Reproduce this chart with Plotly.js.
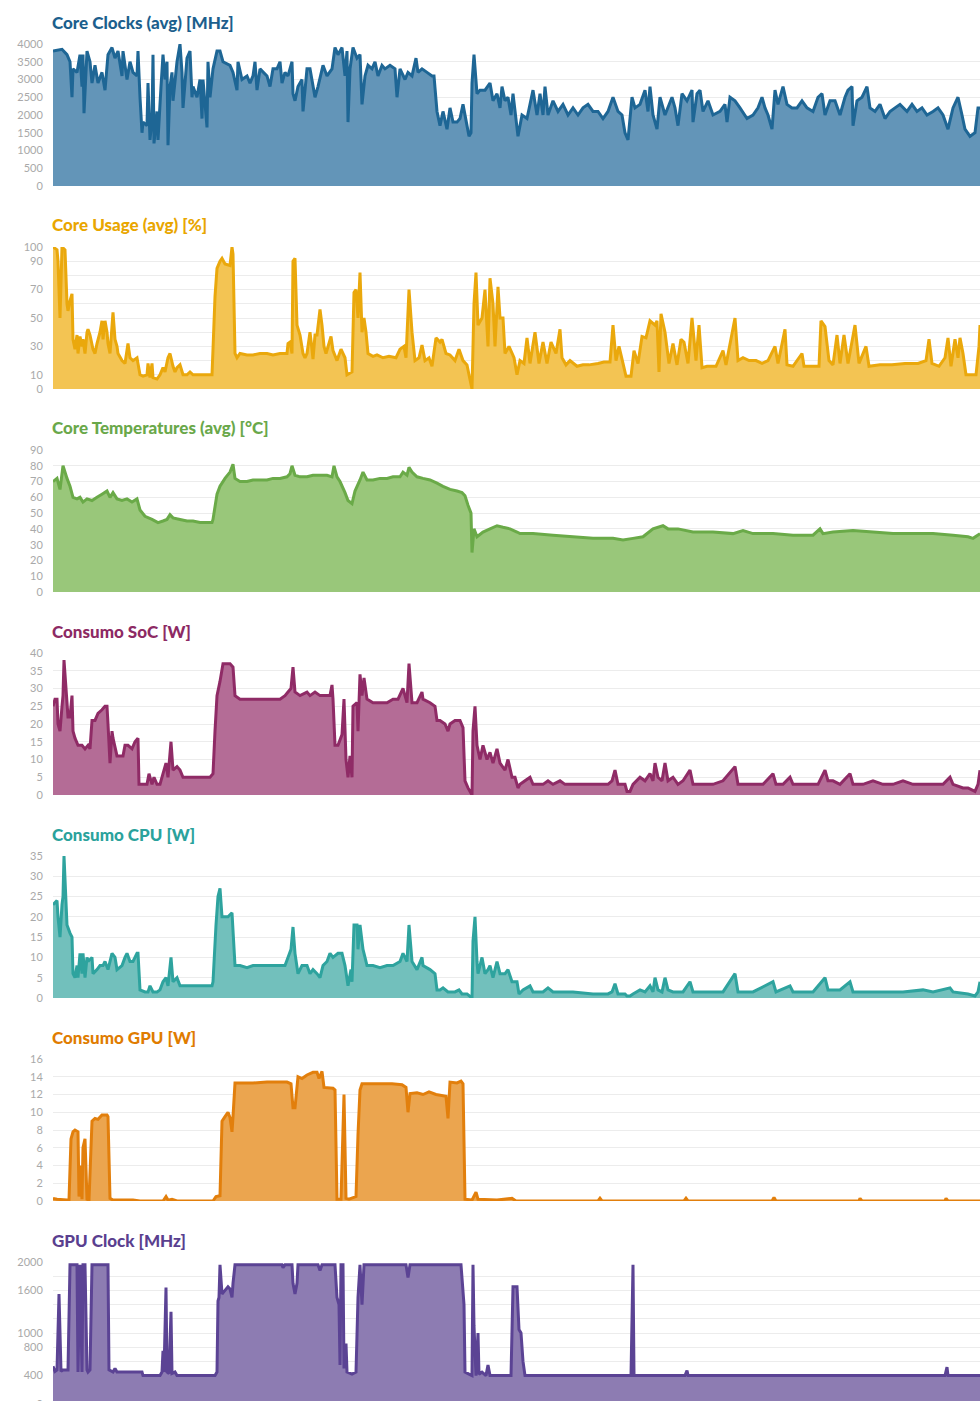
<!DOCTYPE html>
<html>
<head>
<meta charset="utf-8">
<script src="https://cdn.plot.ly/plotly-3.0.1.min.js"></script>
<style>
  html, body { margin: 0; padding: 0; background: #fff; overflow: hidden; }
  #chart { width: 980px; height: 1420px; }
</style>
</head>
<body>
<div id="chart"></div>
<script>
// Time axis in samples (0 .. 927)

// Core Clocks (avg) [MHz]
const clockT = [0,9,14,17,19,20,24,27,29,30,31,34,37,39,42,45,49,52,55,59,62,65,69,70,74,77,80,84,85,87,89,90,94,95,97,99,100,101,104,105,108,110,112,114,115,117,119,120,124,127,129,130,134,137,139,140,144,147,149,150,154,155,157,160,164,167,170,177,180,184,185,189,194,197,200,202,204,207,214,217,220,224,227,229,232,235,239,240,242,245,249,250,254,257,262,265,270,274,279,282,285,289,292,294,295,297,300,304,307,309,312,315,319,322,325,329,332,337,342,344,347,352,355,359,363,365,369,374,379,381,384,387,390,394,397,400,404,407,410,414,416,418,419,421,424,427,432,437,440,444,447,449,452,455,458,460,465,469,474,477,480,484,487,490,492,495,500,505,510,515,520,525,530,535,540,545,550,555,560,565,569,572,575,579,582,587,592,595,597,600,604,607,612,619,622,625,629,634,639,640,644,647,650,655,660,667,672,674,677,682,687,694,700,705,709,712,715,719,722,725,730,734,739,744,749,754,760,765,769,772,777,782,787,792,795,799,800,804,809,814,817,822,827,832,837,842,847,854,859,864,869,874,880,885,890,895,900,905,909,912,917,922,925,927];
const clockV = [3800,3850,3700,3500,2500,3300,3200,3700,2800,3700,2050,3800,3500,2900,3400,2900,3200,2700,3700,3900,3600,3800,3100,3800,3000,3500,3200,3100,3800,2500,1500,1800,1700,2900,1300,1900,3700,1200,2100,1300,2800,3700,3000,3500,1150,2800,3200,2400,3500,4000,3200,2200,3600,3800,2500,2800,2500,3000,1900,3000,1650,3500,2500,3300,3800,3800,3500,3400,3200,2700,3500,3000,3100,2900,3100,3500,2700,3300,3100,2800,3300,3300,3500,2900,3200,3100,3500,2600,2400,2800,3000,2100,3300,3300,2500,2800,3400,3100,3300,3900,3700,3900,3100,3800,1800,3300,3900,3600,3700,2300,3100,3400,3300,3500,3100,3400,3300,3400,3300,2500,3300,3000,3200,3100,3600,3200,3300,3200,3100,3100,2100,1700,2100,1600,2200,1800,1800,1900,2300,1700,1400,1500,2900,3700,2600,2700,2700,2900,2400,2600,2200,2800,2400,2500,2000,2600,1400,2000,1900,2300,2700,2000,2600,2000,2800,2000,2400,2100,2300,2000,2200,2000,2200,2300,2100,2100,1900,2100,2500,2100,2000,1500,1300,2500,2200,2300,2700,2100,2800,2000,1600,2500,2000,2500,2200,1700,2600,2400,2700,1800,2600,2700,2100,2400,2000,2100,2300,1800,2500,2400,2200,1900,2000,2200,2500,2200,2000,1600,2700,2300,2800,2300,2200,2200,2400,2200,2100,2500,2600,2000,2400,2400,2000,2500,2700,2800,1700,2400,2500,2800,2200,2100,2300,1900,2100,2200,2300,2100,2300,2100,2200,2000,2100,2200,2000,1600,2200,2500,2000,1600,1400,1500,2200,2200];

// Core Usage (avg) [%]
const usageT = [0,4,5,7,9,12,14,15,17,19,20,22,24,25,27,29,30,32,34,35,37,40,42,44,47,49,50,52,54,55,57,60,62,64,65,69,72,75,77,80,84,85,87,90,94,95,97,99,100,104,107,110,112,115,117,120,122,124,127,130,134,137,140,147,154,159,160,162,164,167,169,172,177,179,180,182,184,187,194,200,207,214,220,227,234,235,237,239,240,242,244,247,250,252,254,257,259,260,262,264,267,269,271,273,278,280,284,288,292,294,299,301,303,305,307,309,311,313,315,320,324,330,336,343,347,351,353,356,359,362,366,369,372,376,379,383,387,389,393,397,402,406,410,414,416,419,421,423,425,429,432,435,437,440,442,445,447,450,452,456,461,464,467,471,474,477,482,486,490,494,498,503,507,509,513,517,524,530,536,545,551,557,560,563,566,570,573,578,581,585,589,593,597,602,604,606,608,612,616,620,624,628,631,635,639,643,646,649,654,663,670,673,682,685,690,696,703,709,715,722,725,732,734,740,749,751,762,766,768,772,776,780,784,787,791,795,802,806,813,816,827,839,852,865,873,876,879,886,892,895,898,902,905,907,910,913,919,923,926,927];
const usageV = [100,98,90,50,100,98,60,55,62,67,35,28,38,25,37,30,35,25,40,42,38,28,25,32,40,48,35,48,40,32,25,54,35,30,25,20,18,32,22,20,22,18,10,9,10,18,8,18,8,7,10,15,12,22,25,16,12,15,17,10,10,12,10,10,10,10,28,65,85,90,92,88,87,100,95,25,22,25,24,24,25,25,24,25,25,32,33,25,90,92,45,38,25,22,25,40,28,21,38,38,56,45,30,25,37,27,20,28,22,10,12,68,70,50,82,40,50,40,25,23,24,22,23,22,28,30,22,70,40,20,22,31,20,22,16,36,33,35,25,24,20,28,20,17,10,0,60,82,45,50,70,30,78,60,30,72,50,50,25,30,22,10,20,18,36,18,40,18,33,18,33,25,42,22,17,20,16,17,17,18,19,19,45,20,30,18,9,9,27,18,37,36,48,45,48,12,53,40,18,32,17,35,33,18,50,20,45,15,16,16,27,17,50,20,22,20,20,18,20,30,18,42,17,16,25,16,16,16,48,44,20,17,38,18,38,18,45,18,30,16,17,17,18,18,20,35,18,16,22,36,16,35,22,36,25,10,10,10,30,45];

// Core Temperatures (avg) [°C]
const tempT = [0,4,7,10,14,17,20,24,27,30,34,39,44,49,54,57,60,64,69,74,79,84,87,92,99,105,110,114,117,120,127,134,140,147,154,159,160,164,167,172,177,180,182,187,194,200,207,214,220,227,234,237,239,242,247,254,260,267,274,279,281,284,287,292,295,299,302,307,310,314,320,327,334,340,347,350,354,356,359,364,370,377,384,390,397,404,409,412,415,418,419,421,424,430,437,444,450,457,464,467,480,500,520,540,560,570,580,590,600,610,615,625,640,660,680,690,700,720,740,760,767,770,780,800,820,840,860,880,900,915,920,927];
const tempV = [70,72,65,80,72,67,60,59,60,57,59,58,60,62,64,60,63,59,58,59,57,59,52,48,46,44,45,46,49,47,46,45,45,44,44,44,46,62,67,72,76,81,72,70,70,71,71,71,72,72,73,75,80,74,73,73,74,74,74,73,80,73,70,63,58,56,64,71,76,71,71,72,72,73,73,76,74,79,76,73,72,71,69,67,65,64,63,61,55,50,25,40,35,38,40,42,41,40,38,37,37,36,35,34,34,33,34,35,40,42,40,40,38,38,37,39,37,37,36,36,40,37,38,39,38,37,37,37,36,35,34,37];

// Consumo SoC [W]
const socT = [0,2,4,5,7,9,10,11,13,15,17,19,20,22,25,29,32,35,37,39,42,45,49,52,54,55,57,59,60,64,67,70,72,75,79,82,85,86,90,94,96,99,101,104,107,110,113,115,118,120,124,127,130,137,144,150,157,160,162,164,167,170,174,177,180,182,187,194,200,207,214,220,227,232,235,238,240,242,247,254,257,262,267,274,277,279,280,282,285,289,291,293,295,297,299,300,304,305,307,309,311,314,320,327,334,340,345,350,354,356,359,364,369,370,377,382,384,387,392,395,397,402,407,410,412,415,419,420,422,424,427,430,434,437,440,444,447,452,455,459,462,465,467,472,477,480,490,495,500,507,512,520,540,555,559,562,565,572,574,577,580,587,592,597,600,602,605,609,612,615,620,625,630,637,640,650,660,670,682,685,700,710,720,723,730,737,740,755,765,772,775,780,787,797,800,810,820,830,840,850,860,870,880,890,897,900,910,915,922,925,927];
const socV = [25,27,27,20,18,25,28,38,30,22,22,28,18,16,14,14,13,14,13,21,21,23,24,25,25,20,9,18,16,11,11,11,14,14,13,15,16,3,3,3,6,3,5,3,3,6,9,5,15,7,8,7,5,5,5,5,5,6,18,28,32,37,37,37,36,28,27,27,27,27,27,27,27,28,29,30,36,29,28,29,28,29,28,28,28,31,27,14,14,17,27,10,5,11,5,25,26,18,34,28,33,27,26,26,26,27,27,30,26,37,26,26,29,27,26,25,21,21,20,18,20,21,21,19,4,2,0,18,25,14,10,14,10,12,9,13,9,7,10,5,5,2,3,4,5,3,3,4,3,4,3,3,3,3,4,7,3,3,1,1,3,5,4,6,4,9,5,4,9,4,5,3,4,7,3,3,3,4,8,3,3,3,6,3,3,5,3,3,3,7,4,4,3,6,3,3,4,3,3,4,3,3,3,3,5,3,2,2,1,3,7];

// Consumo CPU [W]
const cpuT = [0,4,5,7,9,10,11,14,17,19,20,22,24,25,27,29,30,32,34,35,39,40,44,47,50,52,55,59,62,64,69,72,74,77,80,84,85,87,92,95,97,100,104,107,110,113,115,118,120,124,127,134,140,147,154,159,160,163,165,167,169,172,175,179,182,187,194,200,207,214,220,227,232,235,238,240,242,245,249,254,257,260,264,267,270,274,277,280,285,289,292,295,298,299,301,304,305,307,310,312,314,320,327,334,340,347,350,354,356,359,364,369,370,377,382,384,387,390,395,402,406,409,414,419,420,422,424,425,429,432,435,437,440,444,447,452,455,459,464,466,470,477,480,490,495,500,510,520,540,555,559,562,565,572,574,577,580,587,592,597,600,602,605,609,612,615,620,630,637,640,650,670,682,685,700,720,723,737,740,760,772,775,787,797,800,820,850,870,880,897,900,915,922,925,927];
const cpuV = [23,24,20,15,23,25,35,18,16,15,6,5,8,5,11,6,11,5,10,9,10,6,7,8,8,9,7,11,10,7,8,10,11,9,9,11,11,2,1.5,1.5,3,1.5,1.5,2,4,5,3,10,4,5,3,3,3,3,3,3,4,18,25,27,20,20,20,21,8,8,7.5,8,8,8,8,8,8,10,12,17.5,11,6,8,8,6,7,6,5,8,9,11,10,11,11,8,3,7,4,18,18,12,18,12,10,8,8,7.5,8,8,9,11,9,18,9,7,10,8,7,6,2,2,2.5,1.5,1.5,2,1,1,0,14,20,9,6,10,6,7,8,5,9,6,6,7,4,4,1,2,3,1.5,1.5,2.5,1.5,1.5,1.5,1,1,1.5,3.5,1,1,0.5,0.5,1,2,1.5,3,1.5,5,2,1.5,5,2,1.5,1.5,4,1.5,1.5,1.5,6,1.5,1.5,4,1.5,3,1.5,1.5,5,2,2,4,1.5,1.5,1.5,2,1.5,2.5,1.5,1,0.5,1.5,4];

// Consumo GPU [W]
const gpuT = [0,4,14,16,18,20,22,25,26,28,29,30,32,34,36,39,42,45,49,54,55,57,60,80,87,110,113,115,119,124,160,163,167,169,172,175,177,179,180,182,187,200,214,234,238,240,242,245,249,254,260,264,266,269,271,280,282,284,288,291,293,296,303,305,307,309,322,339,349,353,355,357,364,370,376,383,393,395,397,404,408,410,412,419,423,425,444,459,463,545,547,549,631,633,635,719,721,723,806,807,809,892,893,895,927];
const gpuV = [0.3,0.2,0.1,0.1,7,7.8,8,7.8,0.5,4,0.2,6,7,0.2,0.1,9,9.3,9.2,9.7,9.7,9.5,0.3,0.1,0.1,0,0,0.5,0.1,0.2,0,0,0.5,0.6,9,9.5,10,9.4,7.8,9.5,13.3,13.3,13.3,13.4,13.4,13.2,10.5,10.5,14,13.8,14.2,14.5,14.5,13.8,14.6,12.8,12.7,12.5,0.2,0.2,12,0.3,0.2,0.5,7.5,12.5,13.2,13.2,13.2,13.1,12.8,10,12.1,12.2,12,12.3,12,11.8,9.3,13.4,13.3,13.5,13.2,0.2,0.1,1,0.2,0.1,0.3,0,0,0.3,0,0,0.3,0,0,0.4,0,0,0.3,0,0,0.3,0,0];

// GPU Clock [MHz]
const gclkT = [0,2,4,6,8,10,15,17,24,25,27,29,30,32,34,35,37,39,55,56,60,62,64,89,90,107,109,110,111,113,114,116,118,119,122,124,162,164,165,166,167,169,172,175,177,179,180,182,229,230,232,239,240,242,244,245,265,267,269,282,284,286,287,288,290,291,293,294,299,303,305,307,309,311,353,355,357,408,411,412,416,419,420,421,423,425,426,429,433,435,437,458,460,464,466,468,470,472,578,580,581,632,634,635,892,894,895,927];
const gclkV = [530,460,480,1550,460,480,480,1960,1960,450,1960,450,1960,1960,480,450,480,1960,1960,480,450,500,450,450,400,400,450,750,450,1640,450,430,1300,430,450,400,400,450,1450,1500,1960,1550,1600,1650,1620,1500,1700,1960,1960,1920,1960,1960,1700,1550,1700,1960,1960,1880,1960,1960,1500,1400,550,1960,1960,500,850,450,420,450,1500,1960,1400,1960,1960,1780,1960,1960,1400,450,420,400,1960,1100,400,1000,420,450,400,550,400,400,1650,1650,1050,1000,600,400,400,1960,400,400,470,400,400,520,400,400];

// Panel setup
const titles = ['Core Clocks (avg) [MHz]', 'Core Usage (avg) [%]', 'Core Temperatures (avg) [°C]',
  'Consumo SoC [W]', 'Consumo CPU [W]', 'Consumo GPU [W]', 'GPU Clock [MHz]'];
const series = [[clockT, clockV], [usageT, usageV], [tempT, tempV], [socT, socV],
  [cpuT, cpuV], [gpuT, gpuV], [gclkT, gclkV]];
const lineColors = ['#1e6695', '#eaa80c', '#6aaa48', '#8f2b66', '#2ea39e', '#e27f0c', '#5b4394'];
const fillColors = ['#6395b8', '#f3c453', '#99c77a', '#b46c96', '#72c0bc', '#eba54f', '#8d7cb2'];
const titleColors = ['#1c5f8d', '#e9a600', '#6aa84a', '#8d2a64', '#2aa29c', '#e07c00', '#5a3f8f'];

const yTickVals = [
  [0, 500, 1000, 1500, 2000, 2500, 3000, 3500, 4000],
  [0, 10, 20, 30, 40, 50, 60, 70, 80, 90, 100],
  [0, 10, 20, 30, 40, 50, 60, 70, 80, 90],
  [0, 5, 10, 15, 20, 25, 30, 35, 40],
  [0, 5, 10, 15, 20, 25, 30, 35],
  [0, 2, 4, 6, 8, 10, 12, 14, 16],
  [0, 200, 400, 600, 800, 1000, 1200, 1400, 1600, 1800, 2000]
];
const yTickText = [
  null,
  ['0', '10', '', '30', '', '50', '', '70', '', '90', '100'],
  null, null, null, null,
  ['0', '', '400', '', '800', '1000', '', '', '1600', '', '2000']
];
const yMax = [4000, 100, 90, 40, 35, 16, 2000];

const H = 1420, B = 16;
const area = H - B;
const data = [];
const layout = {
  width: 980, height: H,
  margin: {l: 53, r: 0, t: 0, b: B},
  paper_bgcolor: '#fff', plot_bgcolor: '#fff',
  showlegend: false,
  hovermode: false,
  annotations: []
};

for (let i = 0; i < 7; i++) {
  const top = 44 + 203 * i, bottom = top + 142;
  const sfx = i === 0 ? '' : String(i + 1);
  data.push({
    x: series[i][0], y: series[i][1],
    xaxis: 'x' + sfx, yaxis: 'y' + sfx,
    mode: 'lines', type: 'scatter',
    fill: 'tozeroy', fillcolor: fillColors[i],
    line: {color: lineColors[i], width: 3, simplify: false},
  });
  layout['xaxis' + sfx] = {
    range: [0, 927], anchor: 'y' + sfx,
    showgrid: false, zeroline: false, showline: false,
    showticklabels: false, ticks: '',
  };
  const ya = {
    range: [0, yMax[i]], anchor: 'x' + sfx,
    domain: [(area - bottom) / area, (area - top) / area],
    tickmode: 'array', tickvals: yTickVals[i],
    gridcolor: '#ececec', gridwidth: 1,
    zeroline: false, showline: false,
    ticks: 'outside', ticklen: 7, tickcolor: 'rgba(0,0,0,0)',
    tickfont: {family: 'Lato, sans-serif', size: 11, color: '#a9a9a9'},
  };
  if (yTickText[i]) ya.ticktext = yTickText[i];
  layout['yaxis' + sfx] = ya;
  layout.annotations.push({
    text: titles[i],
    xref: 'paper', yref: 'paper', x: 0, xanchor: 'left', xshift: -3,
    y: (area - (22 + 203 * i)) / area, yanchor: 'middle',
    showarrow: false,
    font: {family: 'Lato, sans-serif', size: 17, weight: 900, color: titleColors[i]},
  });
}

Plotly.newPlot('chart', data, layout, {displayModeBar: false, staticPlot: true});
</script>
</body>
</html>
